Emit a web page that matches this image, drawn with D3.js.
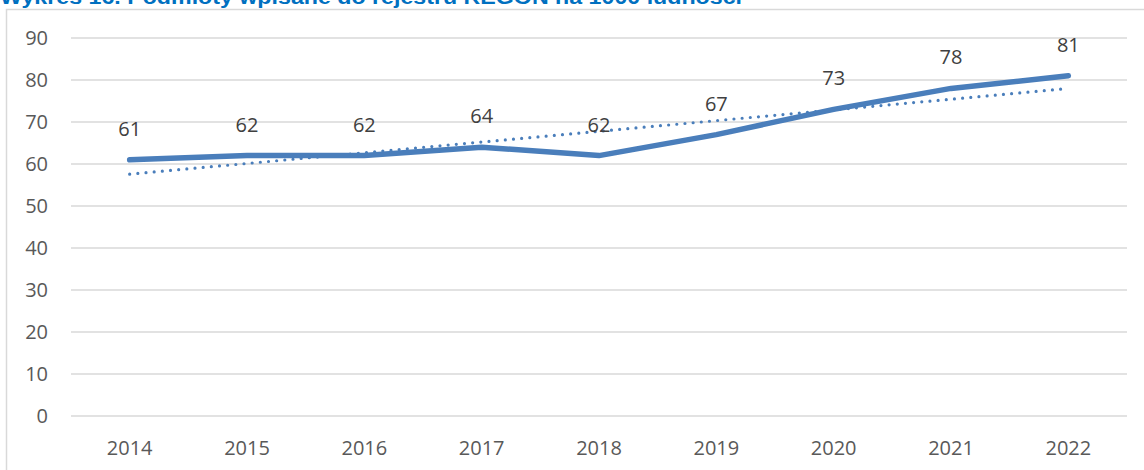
<!DOCTYPE html>
<html>
<head>
<meta charset="utf-8">
<script src="https://cdn.jsdelivr.net/npm/d3@7"></script>
<style>
  body { margin: 0; background: #fff; }
  svg { display: block; font-family: "Open Sans", sans-serif; }
</style>
</head>
<body>
<svg id="canvas"></svg>
<script>
let years = ["2014", "2015", "2016", "2017", "2018", "2019", "2020", "2021", "2022"];
let values = [61, 62, 62, 64, 62, 67, 73, 78, 81];
let yTicks = [0, 10, 20, 30, 40, 50, 60, 70, 80, 90];
let title = "Wykres 16. Podmioty wpisane do rejestru REGON na 1000 ludności";

let svg = d3.select("#canvas")
  .attr('width', 1144)
  .attr('height', 470);

let color = '#4a7ebb';

// linear trendline (least squares, like Excel)
let mx = d3.mean(values, (d, i) => i);
let my = d3.mean(values);
let slope = d3.sum(values, (d, i) => (i - mx) * (d - my)) / d3.sum(values, (d, i) => (i - mx) * (i - mx));
let trend = values.map((d, i) => my + slope * (i - mx));

let x = d3.scaleBand().domain(years).range([71, 1127]);
let y = d3.scaleLinear().domain([0, 90]).range([416, 38]);
let cx = d => x(d) + x.bandwidth() / 2;

// chart border
svg.append('path')
  .attr('d', 'M6.5,470 V9.5 H1144')
  .attr('fill', 'none')
  .attr('stroke', '#d9d9d9')
  .attr('stroke-width', 1.5);

// title (cut off at top, as in the source page)
svg.append('text')
  .attr('x', 0)
  .attr('y', 4)
  .attr('fill', '#0070c0')
  .attr('font-family', '"Liberation Sans", sans-serif')
  .attr('font-weight', 'bold')
  .attr('font-size', 20)
  .attr('textLength', 742)
  .attr('lengthAdjust', 'spacingAndGlyphs')
  .text(title);

// grid
svg.selectAll('line.grid')
  .data(yTicks)
  .join('line')
  .attr('class', 'grid')
  .attr('x1', 71)
  .attr('x2', 1127)
  .attr('y1', d => y(d))
  .attr('y2', d => y(d))
  .attr('stroke', '#d9d9d9')
  .attr('stroke-width', 1.5);

// y labels
svg.selectAll('text.ylab')
  .data(yTicks)
  .join('text')
  .attr('class', 'ylab')
  .attr('x', 48)
  .attr('y', d => y(d))
  .attr('dy', '0.35em')
  .attr('text-anchor', 'end')
  .attr('font-size', 20)
  .attr('fill', '#595959')
  .text(d => d);

// x labels
svg.selectAll('text.xlab')
  .data(years)
  .join('text')
  .attr('class', 'xlab')
  .attr('x', d => cx(d))
  .attr('y', 455)
  .attr('text-anchor', 'middle')
  .attr('font-size', 20)
  .attr('fill', '#595959')
  .text(d => d);

// trendline
let line = d3.line()
  .x((d, i) => cx(years[i]))
  .y(d => y(d));

svg.append('path')
  .datum(trend)
  .attr('d', line)
  .attr('fill', 'none')
  .attr('stroke', color)
  .attr('stroke-width', 3.2)
  .attr('stroke-linecap', 'round')
  .attr('stroke-dasharray', '0,8.2');

// main line
svg.append('path')
  .datum(values)
  .attr('d', line)
  .attr('fill', 'none')
  .attr('stroke', color)
  .attr('stroke-width', 5.5)
  .attr('stroke-linecap', 'round')
  .attr('stroke-linejoin', 'round');

// data labels
svg.selectAll('text.dlab')
  .data(values)
  .join('text')
  .attr('class', 'dlab')
  .attr('x', (d, i) => cx(years[i]))
  .attr('y', d => y(d) - 24)
  .attr('text-anchor', 'middle')
  .attr('font-size', 20)
  .attr('fill', '#404040')
  .text(d => d);
</script>
</body>
</html>
